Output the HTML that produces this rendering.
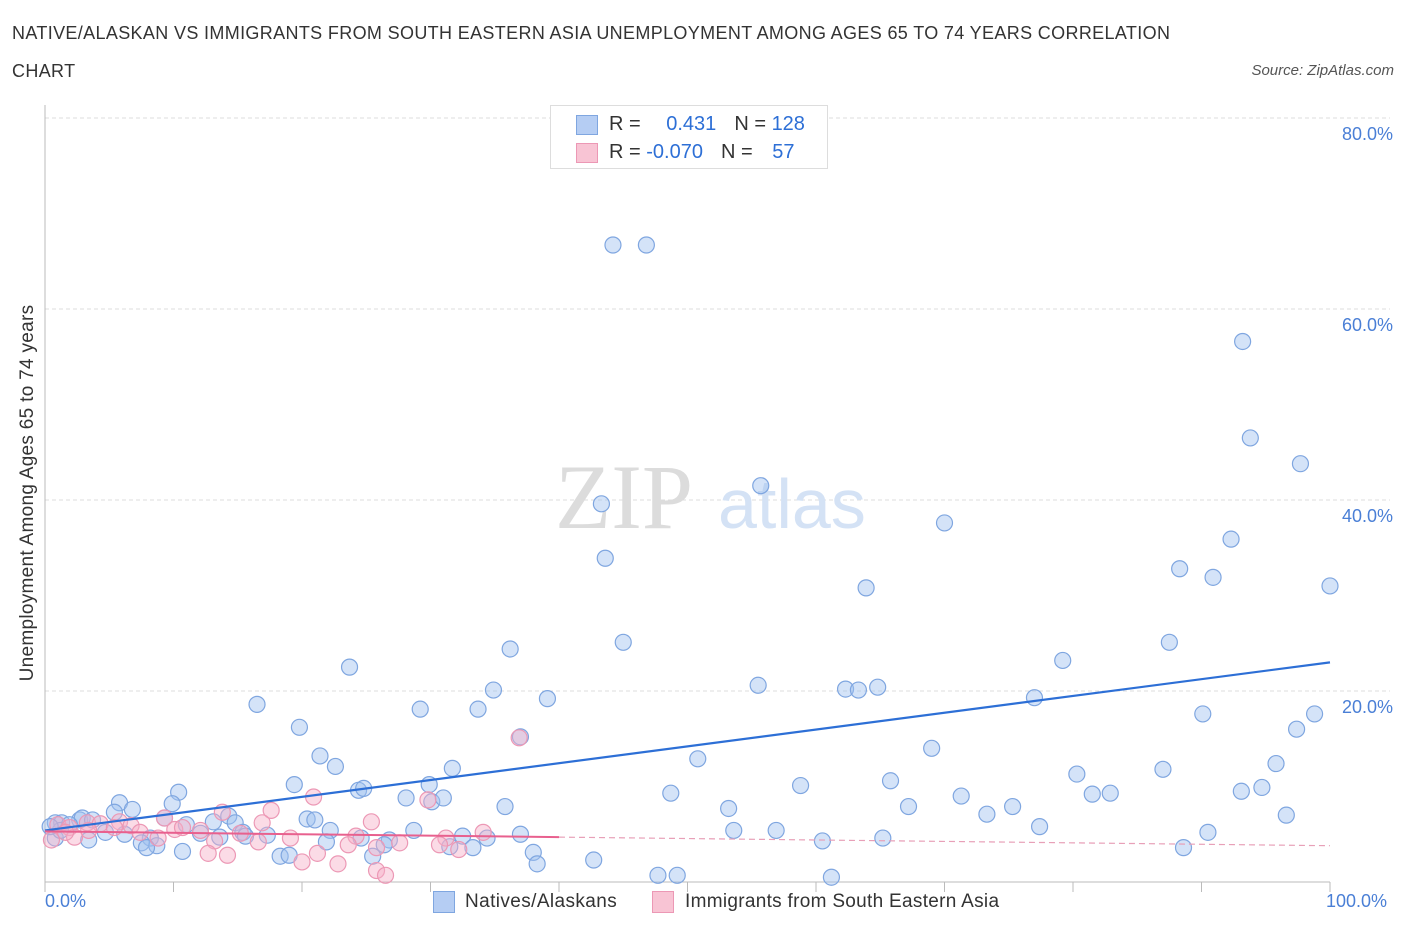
<!DOCTYPE html>
<html><head><meta charset="utf-8"><style>
body{margin:0;background:#fff;font-family:"Liberation Sans",sans-serif;}
#wrap{position:relative;width:1406px;height:930px;overflow:hidden;}
.t{position:absolute;white-space:nowrap;}
</style></head><body>
<div id="wrap">
<div class="t" style="left:12px;top:14px;font-size:18px;letter-spacing:0.35px;color:#333;line-height:38px;">NATIVE/ALASKAN VS IMMIGRANTS FROM SOUTH EASTERN ASIA UNEMPLOYMENT AMONG AGES 65 TO 74 YEARS CORRELATION<br>CHART</div>
<div class="t" style="right:12px;top:62px;font-size:15px;color:#555;font-style:italic;">Source: ZipAtlas.com</div>
<svg id="svg" width="1406" height="930" style="position:absolute;left:0;top:0"></svg>
</div>
<script>
const blueX=[44.2,46.8,93.2,93.8,97.7,55.7,43.3,70.0,43.6,92.3,88.3,90.9,100,63.9,45.0,87.5,36.2,79.2,23.7,34.9,55.5,62.3,63.3,64.8,77.0,39.1,16.5,29.2,33.7,90.1,98.8,19.8,97.4,37.0,69.0,21.4,50.8,22.6,95.8,31.7,87.0,80.3,65.8,19.4,58.8,29.9,10.4,24.4,24.8,48.7,81.5,82.9,71.3,94.7,93.1,28.1,30.1,31.0,5.8,9.9,67.2,75.3,35.8,53.2,6.8,5.4,73.3,96.6,14.3,9.3,20.4,21.0,2.7,2.9,3.7,13.1,14.8,0.8,1.3,1.9,11.0,77.4,53.6,56.9,65.2,22.2,28.7,37.0,90.5,4.7,6.2,12.1,15.4,17.3,15.6,13.6,32.5,34.4,24.6,26.8,8.2,3.4,0.8,60.5,21.9,26.4,7.5,8.7,31.5,33.3,88.6,7.9,10.7,38.0,25.5,18.3,19.0,42.7,38.3,47.7,49.2,61.2,1.2,0.4];
const blueY=[66.7,66.7,56.6,46.5,43.8,41.5,39.6,37.6,33.9,35.9,32.8,31.9,31.0,30.8,25.1,25.1,24.4,23.2,22.5,20.1,20.6,20.2,20.1,20.4,19.3,19.2,18.6,18.1,18.1,17.6,17.6,16.2,16.0,15.2,14.0,13.2,12.9,12.1,12.4,11.9,11.8,11.3,10.6,10.2,10.1,10.2,9.4,9.6,9.8,9.3,9.2,9.3,9.0,9.9,9.5,8.8,8.4,8.8,8.3,8.2,7.9,7.9,7.9,7.7,7.6,7.3,7.1,7.0,6.9,6.7,6.6,6.5,6.5,6.7,6.5,6.3,6.2,6.2,6.2,6.0,6.0,5.8,5.4,5.4,4.6,5.4,5.4,5.0,5.2,5.2,5.0,5.1,5.2,4.9,4.8,4.7,4.8,4.6,4.6,4.4,4.6,4.4,4.6,4.3,4.2,3.9,4.1,3.8,3.7,3.6,3.6,3.6,3.2,3.1,2.7,2.7,2.8,2.3,1.9,0.7,0.7,0.5,5.4,5.8];
const pinkX=[36.9,20.9,29.8,17.6,13.8,9.3,5.8,16.9,25.4,3.3,4.3,1.0,1.9,6.7,10.1,12.1,15.2,7.4,34.1,24.2,19.1,31.2,8.8,2.3,0.5,13.2,16.6,27.6,23.6,30.7,25.8,32.2,21.2,12.7,14.2,22.8,20.0,25.8,26.5,5.4,3.4,1.6,10.7];
const pinkY=[15.1,8.9,8.6,7.5,7.3,6.7,6.3,6.2,6.3,6.2,6.1,6.0,5.7,5.9,5.5,5.4,5.1,5.2,5.2,4.8,4.6,4.6,4.6,4.7,4.4,4.3,4.2,4.1,3.9,3.9,3.6,3.4,3.0,3.0,2.8,1.9,2.1,1.2,0.7,5.7,5.4,5.2,5.7];
const blueTrend=[5.4,23.0];
const pinkTrend=[5.3,3.8];
const yTicks=[20,40,60,80];
const NS="http://www.w3.org/2000/svg";
const svg=document.getElementById('svg');
const X0=45,X1=1330,Y0=882,YS=9.55;
const xs=v=>X0+(X1-X0)*v/100, ys=v=>Y0-v*YS;
function mk(tag,attrs,parent){const e=document.createElementNS(NS,tag);for(const k in attrs)e.setAttribute(k,attrs[k]);(parent||svg).appendChild(e);return e;}
yTicks.forEach(t=>{
 const g=mk('line',{x1:X0,x2:X1+60,y1:ys(t),y2:ys(t),stroke:'#ddd','stroke-dasharray':'4,3'});
 
 
 const l=mk('text',{x:1393,y:ys(t)+22,'text-anchor':'end','font-size':18,fill:'#4a7fd6'});
 l.textContent=t.toFixed(1)+'%';
 
 
});
const wm=mk('text',{x:555,y:528,'font-size':92,fill:'#dcdcdc','font-family':'Liberation Serif'});wm.textContent='ZIP';


const wm2=mk('text',{x:718,y:528,'font-size':70,fill:'#d4e2f5'});wm2.textContent='atlas';


const ax=mk('line',{x1:X0,x2:X0,y1:105,y2:Y0,stroke:'#bbb'});


const bx=mk('line',{x1:X0,x2:X1,y1:Y0,y2:Y0,stroke:'#bbb'});


for(let i=0;i<=10;i++){const tk=mk('line',{x1:xs(i*10),x2:xs(i*10),y1:Y0,y2:Y0+10,stroke:'#bbb'});
 
 }
function pts(xa,ya,fill,stroke,name){xa.forEach((v,i)=>{const c=mk('circle',{cx:xs(v),cy:ys(ya[i]),r:8,fill:fill,stroke:stroke,'stroke-width':1.2});
 
 });}
pts(blueX,blueY,'rgba(160,192,240,0.45)','#7fa6e0','native-point');
pts(pinkX,pinkY,'rgba(246,175,200,0.45)','#ec98b5','immigrant-point');
const bt=mk('line',{x1:xs(0),y1:ys(blueTrend[0]),x2:xs(100),y2:ys(blueTrend[1]),stroke:'#2d6fd6','stroke-width':2.2});


const pm=v=>pinkTrend[0]+(pinkTrend[1]-pinkTrend[0])*v/100;
const pt1=mk('line',{x1:xs(0),y1:ys(pm(0)),x2:xs(40),y2:ys(pm(40)),stroke:'#e8608e','stroke-width':2});


const pt2=mk('line',{x1:xs(40),y1:ys(pm(40)),x2:xs(100),y2:ys(pm(100)),stroke:'#e8a0b8','stroke-width':1.2,'stroke-dasharray':'6,4'});


</script>
<div class="t" style="left:-172px;top:482px;transform:rotate(-90deg);transform-origin:center;width:400px;text-align:center;font-size:19px;letter-spacing:0.3px;color:#333;">Unemployment Among Ages 65 to 74 years</div>
<div class="t" style="left:45px;top:891px;font-size:18px;color:#4a7fd6;">0.0%</div>
<div class="t" style="left:1326px;top:891px;font-size:18px;color:#4a7fd6;">100.0%</div>
<div style="position:absolute;left:550px;top:105px;width:276px;height:62px;border:1px solid #ddd;background:#fff;font-size:20px;">
 <div style="position:absolute;left:25px;top:9px;width:20px;height:18px;background:#b5cdf3;border:1px solid #7fa6e0"></div>
 <div class="t" style="left:58px;top:7px;color:#333">R = <span style="color:#2d6fd6;margin-left:20px">0.431</span><span style="margin-left:18px">N = </span><span style="color:#2d6fd6">128</span></div>
 <div style="position:absolute;left:25px;top:37px;width:20px;height:18px;background:#f8c4d4;border:1px solid #ec98b5"></div>
 <div class="t" style="left:58px;top:35px;color:#333">R = <span style="color:#2d6fd6">-0.070</span><span style="margin-left:18px">N = </span><span style="color:#2d6fd6;margin-left:14px">57</span></div>
</div>
<div style="position:absolute;left:433px;top:891px;font-size:19px;letter-spacing:0.4px;color:#333;">
 <div style="position:absolute;left:0;top:0;width:20px;height:20px;background:#b5cdf3;border:1px solid #7fa6e0"></div>
 <div class="t" style="left:32px;top:0">Natives/Alaskans</div></div>
<div style="position:absolute;left:652px;top:891px;font-size:19px;letter-spacing:0.3px;color:#333;">
 <div style="position:absolute;left:0;top:0;width:20px;height:20px;background:#f8c4d4;border:1px solid #ec98b5"></div>
 <div class="t" style="left:33px;top:0">Immigrants from South Eastern Asia</div></div>
</body></html>
